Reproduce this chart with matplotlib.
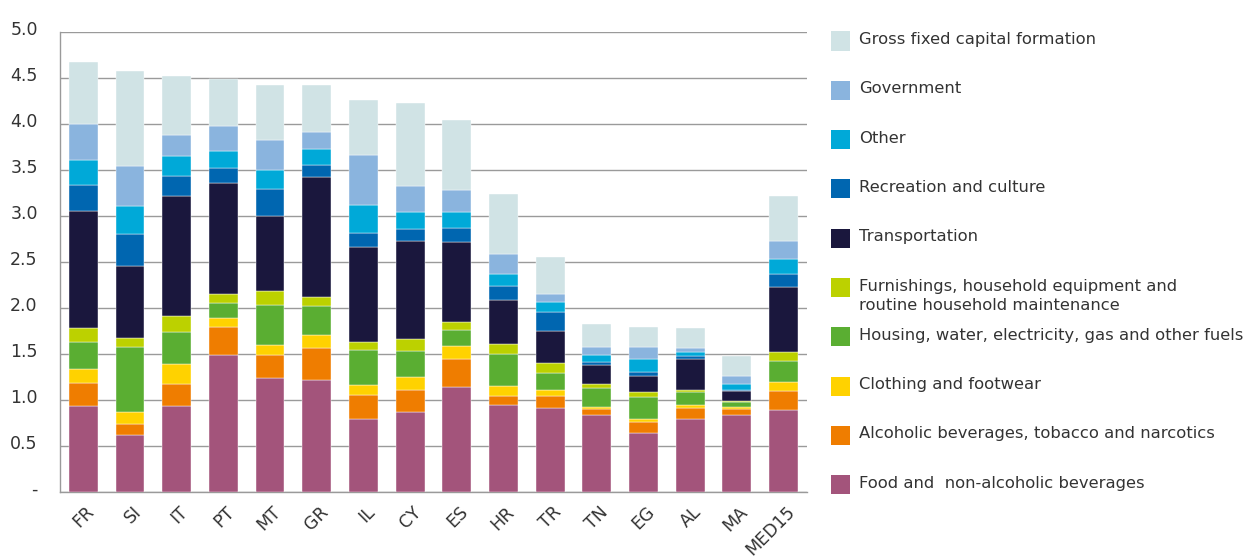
import matplotlib.pyplot as plt
from matplotlib.patches import Rectangle
from matplotlib.transforms import ScaledTranslation

countries = ["FR", "SI", "IT", "PT", "MT", "GR", "IL", "CY", "ES", "HR",
             "TR", "TN", "EG", "AL", "MA", "MED15"]

food = [0.93, 0.62, 0.93, 1.49, 1.24, 1.21, 0.79, 0.87, 1.14, 0.94, 0.91, 0.83, 0.64, 0.79, 0.83, 0.89]
alcohol = [0.25, 0.12, 0.24, 0.30, 0.25, 0.35, 0.26, 0.24, 0.30, 0.105, 0.135, 0.065, 0.12, 0.115, 0.065, 0.20]
clothing = [0.15, 0.13, 0.22, 0.10, 0.11, 0.14, 0.11, 0.14, 0.14, 0.10, 0.065, 0.03, 0.03, 0.035, 0.03, 0.10]
housing = [0.30, 0.70, 0.35, 0.16, 0.43, 0.32, 0.38, 0.28, 0.18, 0.35, 0.185, 0.205, 0.24, 0.145, 0.05, 0.23]
furnishings = [0.15, 0.105, 0.17, 0.10, 0.15, 0.10, 0.085, 0.13, 0.085, 0.115, 0.10, 0.045, 0.05, 0.025, 0.015, 0.10]
transport = [1.27, 0.78, 1.30, 1.20, 0.82, 1.30, 1.04, 1.06, 0.87, 0.47, 0.35, 0.20, 0.18, 0.33, 0.10, 0.70]
recreation = [0.28, 0.35, 0.22, 0.17, 0.29, 0.13, 0.15, 0.135, 0.15, 0.155, 0.205, 0.035, 0.045, 0.04, 0.02, 0.15]
other = [0.28, 0.30, 0.22, 0.18, 0.21, 0.17, 0.30, 0.19, 0.17, 0.13, 0.115, 0.075, 0.135, 0.035, 0.065, 0.16]
government = [0.39, 0.43, 0.23, 0.27, 0.32, 0.19, 0.55, 0.275, 0.24, 0.215, 0.08, 0.085, 0.13, 0.045, 0.085, 0.20]
gfcf = [0.67, 1.04, 0.64, 0.52, 0.60, 0.51, 0.59, 0.905, 0.77, 0.655, 0.41, 0.255, 0.22, 0.215, 0.215, 0.48]

# bottom-up stacking order
series = [
    ("Food and  non-alcoholic beverages", food, "#a3547b"),
    ("Alcoholic beverages, tobacco and narcotics", alcohol, "#ef7d00"),
    ("Clothing and footwear", clothing, "#ffd200"),
    ("Housing, water, electricity, gas and other fuels", housing, "#5aae32"),
    ("Furnishings, household equipment and\nroutine household maintenance", furnishings, "#bcd100"),
    ("Transportation", transport, "#1a173d"),
    ("Recreation and culture", recreation, "#0066b0"),
    ("Other", other, "#00a9d8"),
    ("Government", government, "#8ab4de"),
    ("Gross fixed capital formation", gfcf, "#d0e3e5"),
]

text_color = "#333333"
grid_color = "#9a9a9a"

fig = plt.figure(figsize=(12.49, 5.58), dpi=100)
ax = fig.add_axes([0.048, 0.1188, 0.598, 0.8244])

x = list(range(len(countries)))
bottom = [0.0] * len(countries)
for name, vals, color in series:
    ax.bar(x, vals, width=0.62, bottom=bottom, color=color,
           edgecolor="white", linewidth=0.3, zorder=3)
    bottom = [b + v for b, v in zip(bottom, vals)]

ax.set_xlim(-0.5, len(countries) - 0.5)
ax.set_ylim(0, 5)
yt = [i * 0.5 for i in range(11)]
ax.set_yticks(yt)
ax.set_yticklabels(["-"] + [f"{v:.1f}" for v in yt[1:]])
ax.set_xticks(x)
ax.set_xticklabels(countries, rotation=45, ha="right", va="top",
                   rotation_mode="anchor")
ax.tick_params(axis="both", length=0, labelsize=12.5, colors=text_color)
ax.tick_params(axis="y", pad=16)
ax.tick_params(axis="x", pad=8)
for lab in ax.get_yticklabels():
    lab.set_horizontalalignment("right")
    lab.set_transform(lab.get_transform() + ScaledTranslation(0, 3 / 72, fig.dpi_scale_trans))
for lab in ax.get_xticklabels():
    lab.set_transform(lab.get_transform() + ScaledTranslation(1.5 / 72, 0, fig.dpi_scale_trans))

ax.yaxis.grid(True, color=grid_color, linewidth=1.0, zorder=0)
ax.set_axisbelow(True)
for s in ["top", "right"]:
    ax.spines[s].set_visible(False)
for s in ["left", "bottom"]:
    ax.spines[s].set_color(grid_color)
    ax.spines[s].set_linewidth(1.0)

# legend drawn by hand, top entry first
W, H = 1249, 558
y0 = 41
step = 49.3
for i, (name, vals, color) in enumerate(reversed(series)):
    yc = y0 + i * step
    fig.add_artist(Rectangle((831 / W, 1 - (yc + 9.5) / H), 19 / W, 19 / H,
                             transform=fig.transFigure, color=color, lw=0))
    fig.text(859 / W, 1 - (yc - 9) / H, name, ha="left", va="top",
             fontsize=11.8, color=text_color, linespacing=1.35)

fig.savefig("out.png", dpi=100)
